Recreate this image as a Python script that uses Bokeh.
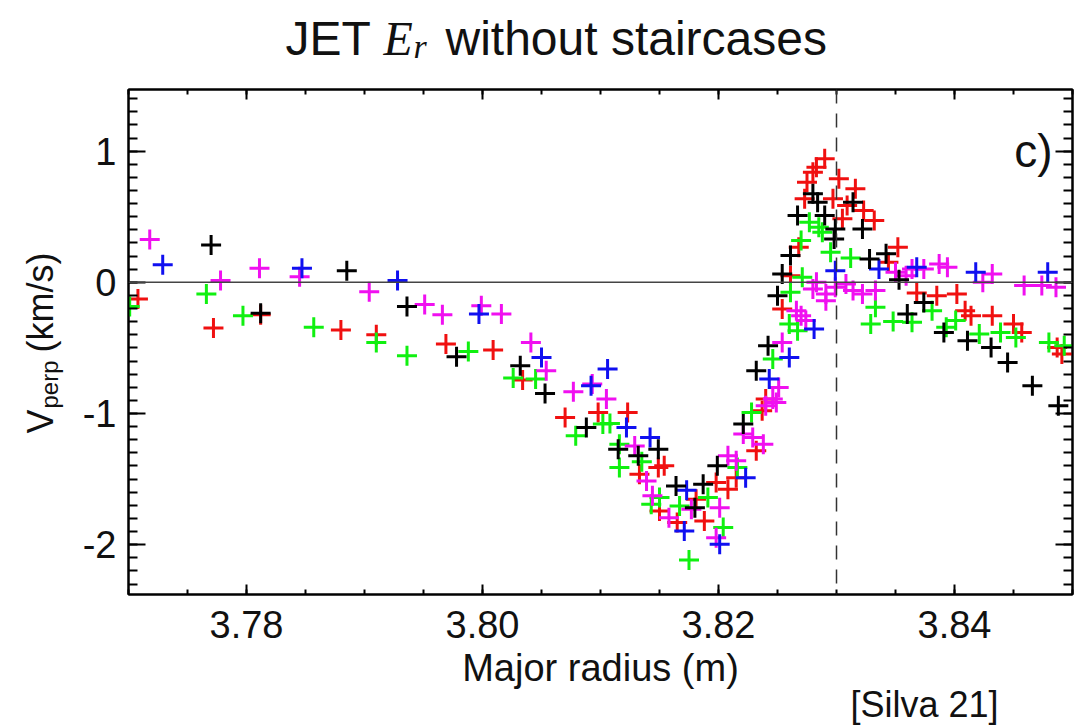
import math
from bokeh.plotting import figure
from bokeh.models import Span, FixedTicker, Range1d, LinearAxis, ColumnDataSource
from bokeh.core.properties import value
from bokeh.embed import file_html
from bokeh.resources import INLINE

# ---------------- data ----------------
red_x = [3.7708, 3.7772, 3.7812, 3.7880, 3.7910, 3.7969, 3.8009, 3.8034, 3.8070, 3.8098,
         3.8123, 3.8133, 3.8149, 3.8154, 3.8150, 3.8165, 3.8181, 3.8188, 3.8198, 3.8208,
         3.8215, 3.8232, 3.8237, 3.8240, 3.8254, 3.8261, 3.8268, 3.8273, 3.8275, 3.8280,
         3.8283, 3.8290, 3.8297, 3.8302, 3.8305, 3.8309, 3.8316, 3.8323, 3.8332, 3.8344,
         3.8352, 3.8368, 3.8385, 3.8402, 3.8409, 3.8414, 3.8432, 3.8450, 3.8457, 3.8487,
         3.8491]
red_y = [-0.127, -0.348, -0.247, -0.364, -0.399, -0.470, -0.516, -0.745, -1.031, -0.992,
         -0.992, -1.463, -1.412, -1.399, -1.743, -1.832, -1.653, -1.819, -1.527, -1.577,
         -1.489, -1.285, -0.979, -0.890, -0.203, 0.051, 0.267, 0.637, 0.763, 0.840,
         0.878, 0.942, 0.637, 0.789, 0.484, 0.585, 0.713, 0.547, 0.471, 0.153,
         0.267, -0.082, -0.102, -0.089, -0.216, -0.254, -0.254, -0.318, -0.382, -0.496,
         -0.547]

green_x = [3.7701, 3.7766, 3.7797, 3.7857, 3.7910, 3.7936, 3.7988, 3.8026, 3.8045, 3.8079,
           3.8102, 3.8108, 3.8116, 3.8116, 3.8135, 3.8150, 3.8143, 3.8167, 3.8175, 3.8191,
           3.8204, 3.8216, 3.8228, 3.8246, 3.8260, 3.8267, 3.8261, 3.8271, 3.8270, 3.8277,
           3.8285, 3.8288, 3.8295, 3.8312, 3.8333, 3.8329, 3.8348, 3.8364, 3.8381, 3.8393,
           3.8401, 3.8421, 3.8439, 3.8452, 3.8480, 3.8493]
green_y = [-0.185, -0.089, -0.254, -0.343, -0.458, -0.560, -0.527, -0.730, -0.738, -1.170,
           -1.081, -1.076, -1.234, -1.412, -1.368, -1.641, -1.692, -1.705, -2.117, -1.641,
           -1.870, -1.412, -0.992, -0.585, -0.318, -0.369, -0.076, 0.038, 0.318, 0.458,
           0.420, 0.382, 0.229, 0.185, -0.191, -0.318, -0.298, -0.305, -0.216, -0.343,
           -0.292, -0.394, -0.382, -0.420, -0.458, -0.483]

blue_x = [3.7729, 3.7847, 3.7928, 3.7997, 3.8050, 3.8092, 3.8106, 3.8122, 3.8142, 3.8173,
          3.8171, 3.8201, 3.8223, 3.8243, 3.8260, 3.8281, 3.8299, 3.8336, 3.8368, 3.8418,
          3.8479]
blue_y = [0.133, 0.107, 0.013, -0.241, -0.573, -0.789, -0.661, -1.107, -1.183, -1.585,
          -1.895, -1.997, -1.489, -0.738, -0.573, -0.356, 0.089, 0.102, 0.115, 0.076,
          0.076]

magenta_x = [3.7718, 3.7778, 3.7811, 3.7845, 3.7904, 3.7951, 3.7966, 3.7999, 3.8016, 3.8041,
             3.8054, 3.8077, 3.8093, 3.8105, 3.8129, 3.8139, 3.8144, 3.8158, 3.8177, 3.8201,
             3.8198, 3.8208, 3.8215, 3.8221, 3.8229, 3.8238, 3.8240, 3.8249, 3.8246, 3.8251,
             3.8254, 3.8266, 3.8270, 3.8274, 3.8280, 3.8283, 3.8291, 3.8291, 3.8299, 3.8308,
             3.8314, 3.8322, 3.8333, 3.8350, 3.8359, 3.8364, 3.8374, 3.8387, 3.8394, 3.8424,
             3.8432, 3.8459, 3.8474, 3.8486]
magenta_y = [0.326, 0.013, 0.107, 0.043, -0.071, -0.170, -0.247, -0.178, -0.241, -0.458,
             -0.674, -0.834, -0.776, -0.890, -1.247, -1.514, -1.628, -1.794, -1.730, -1.718,
             -1.947, -1.323, -1.361, -1.157, -1.183, -1.234, -0.941, -0.916, -0.890, -0.802,
             -0.458, -0.216, -0.254, -0.292, -0.051, 0.000, -0.089, -0.140, -0.038, -0.013,
             -0.063, -0.089, -0.063, 0.076, 0.051, 0.102, 0.102, 0.140, 0.115, 0.000,
             0.064, -0.025, -0.025, -0.038]

black_x = [3.7770, 3.7812, 3.7885, 3.7936, 3.7978, 3.8032, 3.8053, 3.8088, 3.8115, 3.8132,
           3.8149, 3.8164, 3.8180, 3.8187, 3.8199, 3.8221, 3.8232, 3.8242, 3.8250, 3.8254,
           3.8261, 3.8267, 3.8280, 3.8284, 3.8290, 3.8299, 3.8298, 3.8314, 3.8322, 3.8328,
           3.8342, 3.8353, 3.8360, 3.8374, 3.8391, 3.8411, 3.8431, 3.8445, 3.8466, 3.8488]
black_y = [0.285, -0.236, 0.089, -0.185, -0.567, -0.636, -0.847, -1.107, -1.272, -1.323,
           -1.272, -1.552, -1.718, -1.539, -1.399, -1.081, -0.674, -0.483, -0.102, 0.064,
           0.204, 0.509, 0.675, 0.611, 0.509, 0.407, 0.331, 0.611, 0.407, 0.178,
           0.217, 0.020, -0.241, -0.153, -0.382, -0.445, -0.496, -0.611, -0.789, -0.941]

series = [
    ("red", red_x, red_y, "#f01010"),
    ("green", green_x, green_y, "#10f010"),
    ("magenta", magenta_x, magenta_y, "#f010f0"),
    ("blue", blue_x, blue_y, "#1010f0"),
    ("black", black_x, black_y, "#000000"),
]

x_ticks = [3.78, 3.80, 3.82, 3.84]
x_tick_labels = ["3.78", "3.80", "3.82", "3.84"]
y_ticks = [-2, -1, 0, 1]
y_tick_labels = ["-2", "-1", "0", "1"]
x_minor = [round(3.770 + 0.005 * i, 3) for i in range(17)]
y_minor = [round(-2.3 + 0.1 * i, 1) for i in range(38)]

x_lo, x_hi = 3.770, 3.850
y_lo, y_hi = -2.38, 1.47
sep_x = 3.83

FONT = "Liberation Sans"
SERIF = "Liberation Serif"

W, H = 1074, 725
BL, BR, BT, BB = 128, 2, 89, 131
FW, FH = W - BL - BR, H - BT - BB

p = figure(width=W, height=H, title=None,
           x_range=Range1d(x_lo, x_hi), y_range=Range1d(y_lo, y_hi),
           output_backend="svg", toolbar_location=None,
           min_border_left=BL, min_border_right=BR, min_border_top=BT, min_border_bottom=BB,
           x_axis_location=None, y_axis_location=None)
p.xgrid.visible = False
p.ygrid.visible = False
p.outline_line_color = "black"
p.outline_line_width = 2
p.background_fill_color = "white"
p.border_fill_color = "white"

xt = FixedTicker(ticks=x_ticks, minor_ticks=x_minor)
yt = FixedTicker(ticks=y_ticks, minor_ticks=y_minor)

def style_axis(ax, tin, tmin, show_labels):
    ax.axis_line_color = "black"
    ax.axis_line_width = 2
    ax.major_tick_line_color = "black"
    ax.major_tick_line_width = 2
    ax.minor_tick_line_color = "black"
    ax.minor_tick_line_width = 2
    ax.major_tick_in = tin
    ax.major_tick_out = 0
    ax.minor_tick_in = tmin
    ax.minor_tick_out = 0
    if show_labels:
        ax.major_label_text_font = FONT
        ax.major_label_text_font_size = "38px"
        ax.major_label_text_color = "#111111"
    else:
        ax.major_label_text_font_size = "0px"
        ax.major_label_standoff = 0
        ax.major_label_text_alpha = 0

bx = LinearAxis(ticker=xt, major_label_overrides=dict(zip(x_ticks, x_tick_labels)))
style_axis(bx, 10, 5, True)
bx.major_label_standoff = 16
bx.axis_label = "Major radius (m)"
bx.axis_label_text_font = FONT
bx.axis_label_text_font_size = "38px"
bx.axis_label_text_font_style = "normal"
bx.axis_label_text_color = "#111111"
bx.axis_label_standoff = 6
p.add_layout(bx, "below")

tx = LinearAxis(ticker=xt)
style_axis(tx, 10, 5, False)
p.add_layout(tx, "above")

ly = LinearAxis(ticker=yt, major_label_overrides=dict(zip(y_ticks, y_tick_labels)))
style_axis(ly, 17, 9, True)
ly.major_label_standoff = 12
p.add_layout(ly, "left")

ry = LinearAxis(ticker=yt)
style_axis(ry, 17, 9, False)
p.add_layout(ry, "right")

p.add_layout(Span(location=0, dimension="width", line_color="#444444", line_width=1.5))
p.add_layout(Span(location=sep_x, dimension="height", line_color="#333333",
                  line_width=1.5, line_dash="14 10"))

for name, xs, ys, col in series:
    src = ColumnDataSource(dict(x=xs, y=ys))
    p.scatter("x", "y", source=src, marker="cross", size=20, line_width=3,
              line_color=col)

# texts placed by canvas pixel, converted through the figure's linear scales
def cx2d(cx):
    return x_lo + (cx - BL) / FW * (x_hi - x_lo)

def cy2d(cy):
    return y_hi - (cy - BT) / FH * (y_hi - y_lo)

def txt(t, cx, cy, size, font=FONT, style="normal", align="left", angle=0.0):
    p.text(x=[cx2d(cx)], y=[cy2d(cy)], text=[t], text_font=value(font),
           text_font_size=value(size), text_font_style=style, text_align=align,
           text_baseline="alphabetic", angle=angle, text_color="#111111",
           level="overlay")

# title
txt("JET", 285, 38, "48px")
txt("E", 383, 38, "48px", font=SERIF, style="italic")
txt("r", 413, 46, "34px", font=SERIF, style="italic")
txt("without staircases", 445, 38, "48px")

# y axis label
txt("V", 40, 433, "36px", angle=math.pi / 2)
txt("perp", 49, 408, "24px", angle=math.pi / 2)
txt("(km/s)", 40, 352, "36px", angle=math.pi / 2)

# panel tag and citation
txt("c)", 1052, 150, "46px", align="right")
txt("[Silva 21]", 850, 704, "36px")

open("out.html", "w").write(file_html(p, INLINE))
